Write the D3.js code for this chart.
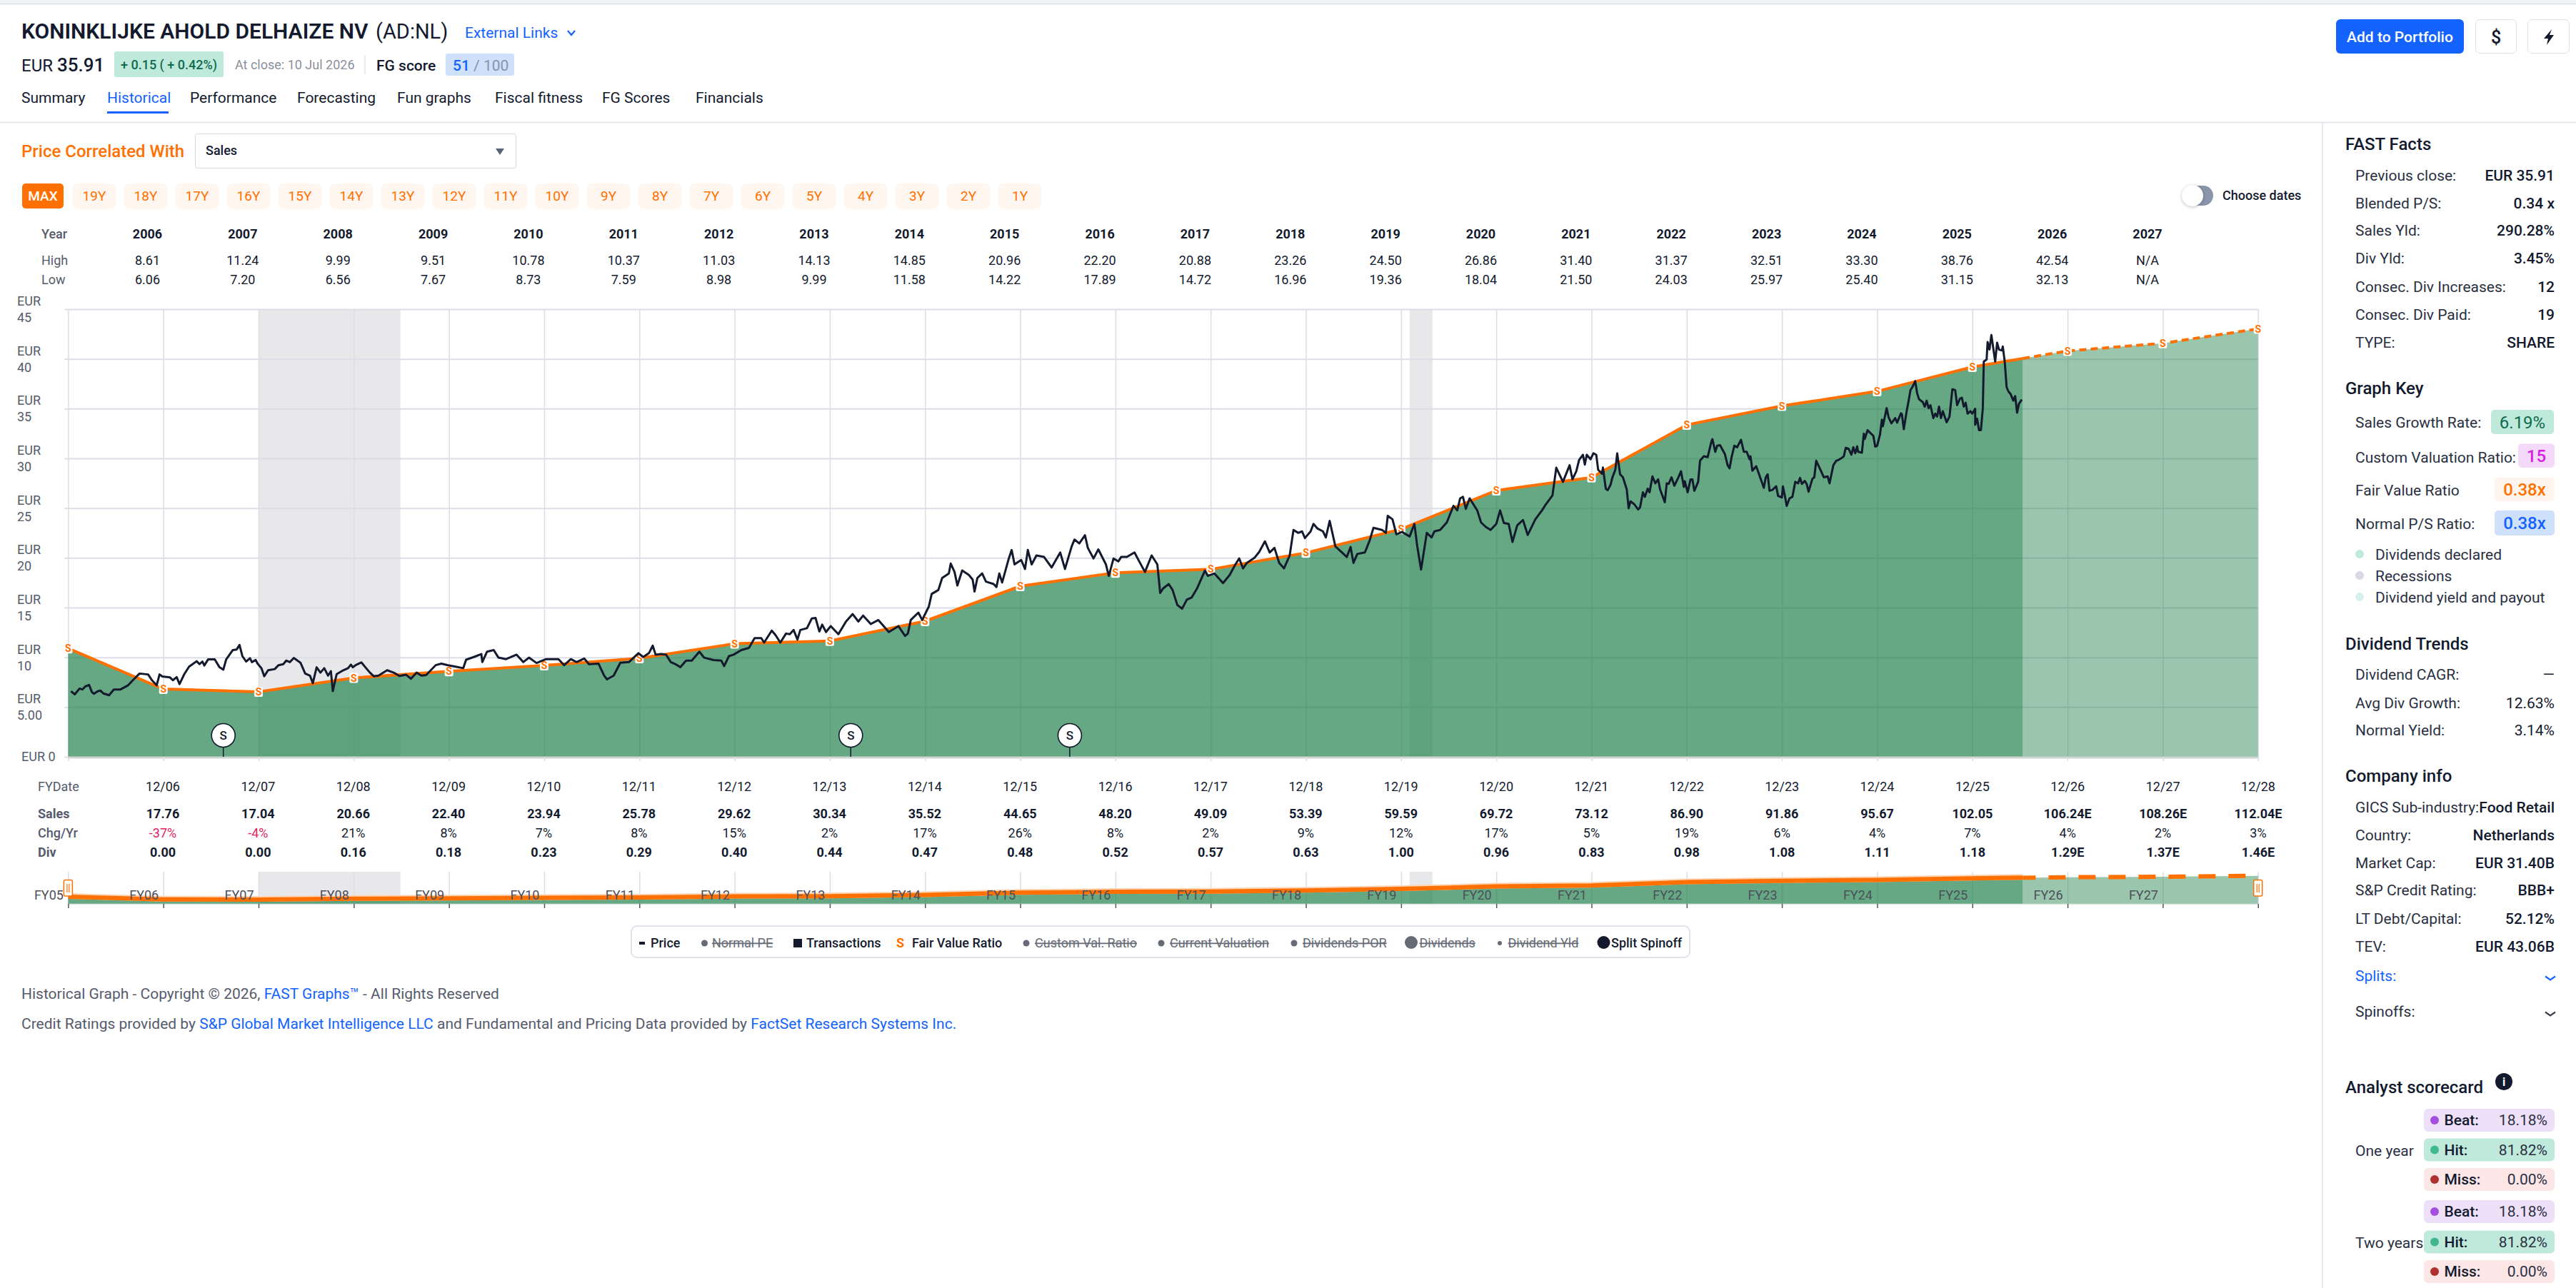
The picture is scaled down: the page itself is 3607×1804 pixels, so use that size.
<!DOCTYPE html>
<html>
<head>
<meta charset="utf-8">
<script src="https://d3js.org/d3.v7.min.js"></script>
<style>
  html, body { margin: 0; padding: 0; background: #fff; overflow: hidden; }
  text { font-family: Roboto, sans-serif; }
</style>
</head>
<body>
<div id="page"></div>
<script>
// Summary table above the chart
var tableYears = ["2006","2007","2008","2009","2010","2011","2012","2013","2014","2015","2016","2017","2018","2019","2020","2021","2022","2023","2024","2025","2026","2027"];
var tableHigh = ["8.61","11.24","9.99","9.51","10.78","10.37","11.03","14.13","14.85","20.96","22.20","20.88","23.26","24.50","26.86","31.40","31.37","32.51","33.30","38.76","42.54","N/A"];
var tableLow = ["6.06","7.20","6.56","7.67","8.73","7.59","8.98","9.99","11.58","14.22","17.89","14.72","16.96","19.36","18.04","21.50","24.03","25.97","25.40","31.15","32.13","N/A"];

// Table below the chart
var fyDates = ["12/06","12/07","12/08","12/09","12/10","12/11","12/12","12/13","12/14","12/15","12/16","12/17","12/18","12/19","12/20","12/21","12/22","12/23","12/24","12/25","12/26","12/27","12/28"];
var salesRow = ["17.76","17.04","20.66","22.40","23.94","25.78","29.62","30.34","35.52","44.65","48.20","49.09","53.39","59.59","69.72","73.12","86.90","91.86","95.67","102.05","106.24E","108.26E","112.04E"];
var chgRow = ["-37%","-4%","21%","8%","7%","8%","15%","2%","17%","26%","8%","2%","9%","12%","17%","5%","19%","6%","4%","7%","4%","2%","3%"];
var divRow = ["0.00","0.00","0.16","0.18","0.23","0.29","0.40","0.44","0.47","0.48","0.52","0.57","0.63","1.00","0.96","0.83","0.98","1.08","1.11","1.18","1.29E","1.37E","1.46E"];
var fyLabels = ["FY05","FY06","FY07","FY08","FY09","FY10","FY11","FY12","FY13","FY14","FY15","FY16","FY17","FY18","FY19","FY20","FY21","FY22","FY23","FY24","FY25","FY26","FY27"];

// Fair value line, one value per fiscal year end (2006 = Dec 2005)
var fairYears = [2006,2007,2008,2009,2010,2011,2012,2013,2014,2015,2016,2017,2018,2019,2020,2021,2022,2023,2024,2025,2026,2027,2028,2029];
var fairValues = [10.9,6.82,6.54,7.93,8.6,9.19,9.9,11.37,11.65,13.64,17.15,18.5,18.85,20.5,22.88,26.77,28.08,33.37,35.27,36.74,39.19,40.8,41.57,43.02];
var lastCloseYear = 2026.53;

var recessions = [[2008.0, 2009.49], [2020.09, 2020.33]];
var splitYears = [2007.63, 2014.22, 2016.52];
var yTicks = [0,5,10,15,20,25,30,35,40,45];

// Price line
var priceYears = [2006.03,2006.07,2006.12,2006.15,2006.18,2006.22,2006.25,2006.27,2006.31,2006.34,2006.37,2006.43,2006.48,2006.55,2006.63,2006.68,2006.75,2006.84,2006.88,2006.93,2006.96,2006.99,
2007.07,2007.10,2007.14,2007.17,2007.22,2007.27,2007.35,2007.38,2007.41,2007.43,2007.47,2007.54,2007.59,2007.63,2007.66,2007.73,2007.77,2007.80,2007.83,2007.87,2007.91,2007.93,2007.97,2007.99,
2008.03,2008.06,2008.10,2008.17,2008.21,2008.26,2008.29,2008.33,2008.37,2008.44,2008.49,2008.54,2008.57,2008.61,2008.65,2008.69,2008.73,2008.76,2008.78,2008.82,2008.89,2008.94,2008.97,2008.99,
2009.03,2009.08,2009.13,2009.17,2009.21,2009.26,2009.35,2009.42,2009.48,2009.55,2009.60,2009.66,2009.71,2009.76,2009.80,2009.86,2009.92,2009.99,
2010.07,2010.15,2010.18,2010.26,2010.34,2010.35,2010.40,2010.47,2010.52,2010.60,2010.71,2010.78,2010.84,2010.92,
2011.02,2011.15,2011.21,2011.28,2011.34,2011.42,2011.47,2011.57,2011.63,2011.66,2011.73,2011.80,2011.89,2011.94,2011.99,
2012.04,2012.10,2012.14,2012.17,2012.23,2012.28,2012.33,2012.38,2012.43,2012.49,2012.55,2012.63,2012.68,2012.78,2012.86,2012.89,2012.94,2012.99,
2013.07,2013.15,2013.21,2013.28,2013.31,2013.39,2013.43,2013.48,2013.54,2013.58,2013.62,2013.66,2013.69,2013.76,2013.81,2013.85,2013.89,2013.92,2013.96,
2014.01,2014.09,2014.17,2014.24,2014.30,2014.35,2014.43,2014.51,2014.62,2014.72,2014.79,2014.82,2014.85,2014.93,2014.97,
2015.04,2015.07,2015.14,2015.18,2015.25,2015.27,2015.31,2015.34,2015.39,2015.46,2015.50,2015.52,2015.55,2015.60,2015.64,2015.72,2015.75,2015.78,2015.81,2015.88,2015.91,2015.94,
2016.01,2016.05,2016.08,2016.12,2016.17,2016.25,2016.33,2016.42,2016.47,2016.54,2016.57,2016.62,2016.68,2016.71,2016.77,2016.82,2016.90,2016.93,2016.98,
2017.03,2017.06,2017.12,2017.20,2017.25,2017.31,2017.38,2017.44,2017.47,2017.50,2017.56,2017.60,2017.65,2017.70,2017.75,2017.80,2017.86,2017.94,2017.97,
2018.04,2018.13,2018.20,2018.26,2018.30,2018.34,2018.38,2018.46,2018.51,2018.57,2018.62,2018.67,2018.72,2018.77,2018.83,2018.87,2018.92,2018.96,2018.99,
2019.05,2019.08,2019.12,2019.18,2019.21,2019.25,2019.31,2019.38,2019.43,2019.47,2019.50,2019.54,2019.62,2019.67,2019.71,2019.80,2019.84,2019.86,2019.91,2019.95,
2020.01,2020.09,2020.14,2020.17,2020.21,2020.27,2020.32,2020.35,2020.41,2020.48,2020.55,2020.59,2020.62,2020.65,2020.68,2020.72,2020.80,2020.84,2020.89,2020.94,2021.00,2021.04,2021.08,2021.13,2021.17,2021.22,2021.28,2021.33,2021.41,2021.48,2021.51,2021.59,2021.63,2021.70,2021.77,
2021.80,2021.84,2021.87,2021.91,2021.93,2021.95,2021.99,2022.02,2022.05,2022.07,2022.11,2022.12,2022.15,2022.17,2022.20,2022.22,2022.25,2022.27,2022.30,2022.33,2022.37,2022.39,2022.41,2022.45,2022.49,2022.51,2022.54,2022.56,2022.59,2022.61,2022.64,2022.67,2022.70,2022.72,2022.77,2022.79,2022.81,2022.84,2022.87,2022.91,2022.94,2022.97,2022.98,
2023.01,2023.04,2023.06,2023.08,2023.12,2023.14,2023.18,2023.22,2023.26,2023.27,2023.30,2023.32,2023.35,2023.40,2023.43,2023.45,2023.47,2023.50,2023.53,2023.57,2023.60,2023.63,2023.66,2023.67,2023.69,2023.73,2023.76,2023.81,2023.83,2023.85,2023.87,2023.90,2023.94,2023.96,
2024.00,2024.01,2024.03,2024.05,2024.08,2024.11,2024.14,2024.17,2024.19,2024.21,2024.24,2024.26,2024.28,2024.32,2024.34,2024.36,2024.39,2024.44,2024.48,2024.50,2024.54,2024.57,2024.59,2024.63,2024.65,2024.67,2024.70,2024.73,2024.75,2024.77,2024.79,2024.80,2024.84,2024.86,2024.87,2024.90,2024.92,2024.96,2024.98,
2025.00,2025.03,2025.05,2025.06,2025.10,2025.12,2025.15,2025.19,2025.21,2025.25,2025.26,2025.28,2025.31,2025.33,2025.35,2025.37,2025.40,2025.42,2025.44,2025.48,2025.50,2025.52,2025.54,2025.56,2025.59,2025.61,2025.63,2025.65,2025.67,2025.69,2025.73,2025.76,2025.79,2025.82,2025.84,2025.87,2025.89,2025.91,2025.93,2025.95,2025.98,
2026.00,2026.03,2026.03,2026.05,2026.07,2026.09,2026.11,2026.12,2026.15,2026.16,2026.18,2026.20,2026.24,2026.26,2026.28,2026.31,2026.32,2026.34,2026.36,2026.38,2026.40,2026.43,2026.45,2026.47,2026.49,2026.52];
var priceValues = [6.59,6.28,6.86,6.77,7.07,7.22,6.50,6.34,6.59,6.65,6.37,6.19,6.77,6.77,7.19,7.70,8.37,8.28,7.70,7.19,8.28,8.07,
7.98,7.70,8.01,7.31,8.31,9.06,9.61,9.31,9.58,9.18,9.79,9.79,9.00,8.76,9.79,10.73,10.79,11.24,10.12,9.58,9.91,9.52,9.73,9.37,
8.91,8.10,8.70,8.82,9.21,9.31,9.67,9.52,9.94,9.46,8.37,8.16,7.40,9.00,8.46,8.91,8.16,8.61,6.60,8.31,8.70,8.91,9.27,9.00,
9.27,9.49,8.91,8.46,8.10,8.16,8.70,8.46,8.13,8.25,7.85,8.46,8.16,8.22,8.61,9.21,9.37,9.21,
9.06,8.91,9.76,10.03,10.33,9.52,10.57,10.73,9.97,9.82,10.27,9.52,9.97,9.43,
9.82,9.82,9.21,9.82,9.52,9.88,9.31,9.37,8.16,7.79,8.16,9.46,9.52,9.97,10.42,
10.03,10.42,11.18,10.27,10.33,10.27,9.52,9.31,9.00,9.67,9.67,10.57,9.97,9.73,9.67,9.12,10.12,10.27,
10.73,10.94,11.93,11.93,11.48,12.69,12.24,11.48,12.39,12.33,12.75,11.78,12.75,12.93,13.90,13.96,12.60,13.29,12.54,
13.14,12.33,13.60,14.35,13.60,14.20,13.35,13.75,12.54,13.14,12.15,12.39,13.75,14.50,13.75,
15.11,16.37,16.77,17.98,18.43,19.43,18.58,17.22,18.73,18.28,17.82,16.62,17.98,18.43,17.61,17.37,17.07,18.43,17.52,19.94,20.79,19.34,
19.79,18.88,20.79,19.34,20.24,20.09,19.03,20.54,18.88,21.15,21.84,21.45,22.27,21.00,19.94,20.85,19.34,18.19,19.94,
19.64,20.09,20.09,20.54,19.64,18.58,20.24,19.34,16.47,16.92,17.37,16.77,15.26,14.89,15.80,16.01,16.98,18.73,18.19,
18.43,17.46,18.28,19.34,19.94,18.94,19.49,20.00,20.60,21.66,20.54,21.00,19.49,18.94,20.24,22.81,22.51,22.66,21.99,
22.66,23.41,22.96,22.66,22.05,23.72,21.15,20.54,20.09,21.09,19.49,20.39,20.54,21.75,23.02,22.81,22.51,24.23,23.87,22.36,
22.60,22.15,23.41,21.15,18.82,22.51,22.05,22.66,22.81,23.56,25.23,24.77,25.98,26.13,24.92,25.98,24.77,23.56,23.11,22.81,23.41,24.77,23.50,23.41,21.60,23.26,23.81,22.30,23.87,24.77,25.23,26.28,29.06,27.64,29.31,
27.89,28.70,29.85,30.36,29.37,30.36,29.91,30.51,30.36,28.85,28.46,29.09,26.95,26.80,27.34,28.10,28.85,30.51,28.40,28.10,26.89,24.98,25.68,25.38,24.86,25.08,26.59,26.13,26.95,26.59,28.19,27.49,27.89,26.89,25.59,27.49,27.43,28.10,27.25,28.04,28.70,27.13,27.70,
26.59,27.89,27.89,26.74,27.64,29.76,30.21,30.12,31.72,31.93,30.66,31.27,31.33,30.45,29.31,29.00,30.06,31.27,31.12,31.87,30.66,30.66,29.91,30.21,28.76,29.21,28.40,27.04,28.10,28.40,26.74,26.83,27.19,26.22,
26.07,27.19,26.28,25.23,25.98,26.13,27.64,27.49,28.04,27.43,27.73,27.43,26.65,27.95,28.10,29.76,29.15,28.10,28.19,27.49,29.31,29.76,29.82,30.06,30.21,31.06,30.97,30.36,31.12,30.51,31.21,30.66,30.57,32.48,31.96,32.84,32.63,32.27,31.18,
31.27,32.39,33.90,33.23,35.05,34.14,33.53,34.05,33.60,34.53,34.44,32.93,34.74,35.74,36.86,37.16,37.76,36.56,35.95,35.65,35.20,35.80,35.05,35.35,34.05,34.50,34.20,35.20,34.05,34.74,33.63,34.20,36.95,36.86,35.35,36.01,36.10,35.20,35.59,34.50,34.74,
34.50,34.98,33.38,33.99,32.84,32.84,35.05,39.73,39.94,41.69,40.94,42.40,39.73,41.63,40.94,40.85,41.24,39.73,37.16,36.71,36.50,35.80,36.25,34.59,35.50,35.91];

// Page chrome texts
var navItems = ["Summary","Historical","Performance","Forecasting","Fun graphs","Fiscal fitness","FG Scores","Financials"];
var rangeItems = ["19Y","18Y","17Y","16Y","15Y","14Y","13Y","12Y","11Y","10Y","9Y","8Y","7Y","6Y","5Y","4Y","3Y","2Y","1Y"];
var factLabels = ["Previous close:","Blended P/S:","Sales Yld:","Div Yld:","Consec. Div Increases:","Consec. Div Paid:","TYPE:"];
var factValues = ["EUR 35.91","0.34 x","290.28%","3.45%","12","19","SHARE"];
var trendLabels = ["Dividend CAGR:","Avg Div Growth:","Normal Yield:"];
var trendValues = ["—","12.63%","3.14%"];
var infoLabels = ["GICS Sub-industry:","Country:","Market Cap:","S&P Credit Rating:","LT Debt/Capital:","TEV:"];
var infoValues = ["Food Retail","Netherlands","EUR 31.40B","BBB+","52.12%","EUR 43.06B"];
var scoreLabels = ["Beat:","Hit:","Miss:","Beat:","Hit:","Miss:"];
var scoreValues = ["18.18%","81.82%","0.00%","18.18%","81.82%","0.00%"];

var BLUE = "#1463ff", ORANGE = "#ff7000", INK = "#131a2e", GREY = "#555b6b", GRID = "#dcdde6";

var svg = d3.select("#page").append("svg")
  .attr("width", 3607)
  .attr("height", 1804)
  .style("display", "block");

function put(parent, x, y, str, size, weight, color, anchor) {
  return parent.append("text")
    .attr("x", x).attr("y", y)
    .attr("font-size", size)
    .attr("font-weight", weight || 400)
    .attr("fill", color || INK)
    .attr("text-anchor", anchor || "start")
    .text(str);
}

function box(parent, x0, y0, x1, y1, fill, rx, stroke) {
  return parent.append("rect")
    .attr("x", x0).attr("y", y0)
    .attr("width", x1 - x0).attr("height", y1 - y0)
    .attr("rx", rx || 0)
    .attr("fill", fill)
    .attr("stroke", stroke || "none");
}

function chevron(parent, x, y, color, half, rise) {
  parent.append("path")
    .attr("d", `M${x - half},${y - rise} L${x},${y + rise} L${x + half},${y - rise}`)
    .attr("fill", "none")
    .attr("stroke", color)
    .attr("stroke-width", 2.2);
}

// ---- Header
box(svg, 0, 0, 3607, 5, "#f1f2f5");
svg.append("line").attr("x1", 0).attr("x2", 3607).attr("y1", 5.5).attr("y2", 5.5).attr("stroke", "#dcdde6").attr("stroke-width", 1.5);

put(svg, 30, 54, "KONINKLIJKE AHOLD DELHAIZE NV", 30, 600);
put(svg, 526, 54, "(AD:NL)", 29, 400);
put(svg, 651, 53, "External Links", 21, 400, BLUE);
chevron(svg, 800, 46, BLUE, 5, 3);

put(svg, 30, 100, "EUR", 24, 400);
put(svg, 80, 100, "35.91", 26, 500);
box(svg, 160, 72, 313, 108, "#bfe9db", 3);
put(svg, 236.5, 97, "+ 0.15 ( + 0.42%)", 18, 500, "#0e6b4f", "middle");
put(svg, 329, 97, "At close: 10 Jul 2026", 18, 400, "#8b909c");
svg.append("line").attr("x1", 511).attr("x2", 511).attr("y1", 78).attr("y2", 104).attr("stroke", "#e2e3ea").attr("stroke-width", 1.5);
put(svg, 527, 99, "FG score", 21, 500);
box(svg, 624, 75, 720, 106, "#cfe0fb", 3);
var score = put(svg, 634, 99, "51", 21, 500, BLUE);
score.append("tspan").attr("fill", "#8494ae").attr("font-weight", 400).text(" / 100");

var navX = [30, 150, 266, 416, 556, 693, 843, 974];
navItems.forEach(function (d, i) {
  put(svg, navX[i], 144, d, 21, 400, i == 1 ? BLUE : INK);
});
box(svg, 150, 156, 236, 159, BLUE);
svg.append("line").attr("x1", 0).attr("x2", 3607).attr("y1", 171.5).attr("y2", 171.5).attr("stroke", "#e0e1e8").attr("stroke-width", 1.5);

box(svg, 3271, 27, 3450, 75, BLUE, 6);
put(svg, 3360.5, 59, "Add to Portfolio", 21, 500, "#fff", "middle");
box(svg, 3466.5, 27.5, 3523.5, 74.5, "#fff", 6, "#e0e1e8");
put(svg, 3495, 61, "$", 25, 500, INK, "middle");
box(svg, 3539.5, 27.5, 3597.5, 74.5, "#fff", 6, "#e0e1e8");
svg.append("path").attr("d", "M3573,41 L3562,54 L3568,54 L3566,63 L3576,49 L3570,49 Z").attr("fill", INK);

// ---- Controls
put(svg, 30, 220, "Price Correlated With", 24, 500, ORANGE);
box(svg, 273.5, 187.5, 722.5, 235.5, "#fff", 3, "#d8d9e4");
put(svg, 288, 217, "Sales", 18, 500);
svg.append("path").attr("d", "M694,208 L706,208 L700,217 Z").attr("fill", "#5a6478");

box(svg, 31, 257, 89, 292, ORANGE, 5);
put(svg, 60, 281, "MAX", 19, 500, "#fff", "middle");
rangeItems.forEach(function (d, i) {
  var x0 = 102 + i * 72;
  box(svg, x0, 257, x0 + 60, 293, "#fff6f0", 7);
  put(svg, x0 + 30, 281, d, 19, 400, ORANGE, "middle");
});

box(svg, 3060, 260, 3099, 288, "#8a94ab", 14);
svg.append("circle").attr("cx", 3070).attr("cy", 274).attr("r", 15)
  .attr("fill", "#fff").style("filter", "drop-shadow(0 1px 2px rgba(0,0,0,.25))");
put(svg, 3112, 280, "Choose dates", 18, 500);

// ---- High / low table
var yearCol = d3.scaleLinear().domain([0, 21]).range([206.5, 3007]);
put(svg, 58, 334, "Year", 18, 500, GREY);
put(svg, 58, 371, "High", 18, 400, GREY);
put(svg, 58, 398, "Low", 18, 400, GREY);
tableYears.forEach(function (d, i) {
  put(svg, yearCol(i), 334, d, 18, 700, INK, "middle");
  put(svg, yearCol(i), 371, tableHigh[i], 18, 400, INK, "middle");
  put(svg, yearCol(i), 398, tableLow[i], 18, 400, INK, "middle");
});

// ---- Main chart
var xLeft = 95.4, xRight = 3161.7, yTop = 433, yBottom = 1060;
var x = d3.scaleLinear().domain([2006, 2029]).range([xLeft, xRight]);
var y = d3.scaleLinear().domain([0, 45]).range([yBottom, yTop]);
var fairPoints = fairYears.map(function (d, i) { return {year: d, value: fairValues[i]}; });
var pricePoints = priceYears.map(function (d, i) { return {year: d, value: priceValues[i]}; });
var xTicks = d3.range(2006, 2030);

// Where the fair value line crosses the last close, so the dashes start there
var fairAt = d3.scaleLinear().domain(fairYears).range(fairValues);
var estimatePoints = [{year: lastCloseYear, value: fairAt(lastCloseYear)}]
  .concat(fairPoints.filter(d => d.year > lastCloseYear));

svg.append("defs").selectAll("clipPath")
  .data([
    {id: "past", x0: xLeft - 4, x1: x(lastCloseYear)},
    {id: "future", x0: x(lastCloseYear), x1: xRight + 10}
  ])
  .join("clipPath").attr("id", d => d.id)
  .append("rect")
    .attr("x", d => d.x0).attr("y", 0)
    .attr("width", d => d.x1 - d.x0).attr("height", 1804);

var chart = svg.append("g").attr("class", "chart");

chart.selectAll("rect.recession")
  .data(recessions)
  .join("rect").attr("class", "recession")
    .attr("x", d => x(d[0])).attr("y", yTop)
    .attr("width", d => x(d[1]) - x(d[0])).attr("height", yBottom - yTop)
    .attr("fill", "#e8e8ea");

var yAxis = d3.axisLeft(y).tickValues(yTicks).tickSizeInner(-(xRight - xLeft)).tickSizeOuter(0).tickFormat("");
chart.append("g").attr("class", "y-grid")
  .attr("transform", `translate(${xLeft},0)`)
  .call(yAxis)
  .call(g => g.select(".domain").remove())
  .call(g => g.selectAll("line").attr("stroke", GRID).attr("stroke-width", 2));

chart.append("g").attr("class", "y-stubs")
  .attr("transform", `translate(${xLeft},0)`)
  .call(d3.axisLeft(y).tickValues(yTicks).tickSizeInner(5).tickSizeOuter(0).tickFormat(""))
  .call(g => g.select(".domain").remove())
  .call(g => g.selectAll("line").attr("stroke", GRID).attr("stroke-width", 2));

var xAxis = d3.axisBottom(x).tickValues(xTicks).tickSizeInner(-(yBottom - yTop)).tickSizeOuter(0).tickFormat("");
chart.append("g").attr("class", "x-grid")
  .attr("transform", `translate(0,${yBottom})`)
  .call(xAxis)
  .call(g => g.select(".domain").remove())
  .call(g => g.selectAll("line").attr("stroke", GRID).attr("stroke-width", 1.5));

// Value area, darker up to the last close and lighter for the estimates
var fairArea = d3.area().x(d => x(d.year)).y0(yBottom).y1(d => y(d.value));
chart.append("path").datum(fairPoints).attr("d", fairArea)
  .attr("fill", "#24834f").attr("fill-opacity", 0.7).attr("clip-path", "url(#past)");
chart.append("path").datum(fairPoints).attr("d", fairArea)
  .attr("fill", "#24834f").attr("fill-opacity", 0.46).attr("clip-path", "url(#future)");

chart.append("line")
  .attr("x1", xLeft).attr("x2", xRight).attr("y1", yBottom + 1).attr("y2", yBottom + 1)
  .attr("stroke", "#cdd6d2").attr("stroke-width", 3);

var xStubs = d3.axisBottom(x).tickValues(xTicks).tickSizeInner(6).tickSizeOuter(0).tickFormat("");
chart.append("g")
  .attr("transform", `translate(0,${yBottom})`)
  .call(xStubs)
  .call(g => g.select(".domain").remove())
  .call(g => g.selectAll("line").attr("stroke", GRID).attr("stroke-width", 1.5));

var fairLine = d3.line().x(d => x(d.year)).y(d => y(d.value));
chart.append("path").datum(fairPoints).attr("d", fairLine)
  .attr("fill", "none").attr("stroke", ORANGE).attr("stroke-width", 4).attr("clip-path", "url(#past)");
chart.append("path").datum(estimatePoints).attr("d", fairLine)
  .attr("fill", "none").attr("stroke", ORANGE).attr("stroke-width", 4)
  .attr("stroke-dasharray", "10 6");

var fairMarks = chart.selectAll("g.fair-mark")
  .data(fairPoints)
  .join("g").attr("class", "fair-mark")
    .attr("transform", d => `translate(${x(d.year)},${y(d.value)})`);
fairMarks.append("rect")
  .attr("x", -6).attr("y", -7).attr("width", 12).attr("height", 14).attr("rx", 2)
  .attr("fill", "#fff").attr("fill-opacity", 0.95);
fairMarks.append("text")
  .attr("text-anchor", "middle").attr("y", 5)
  .attr("font-size", 14).attr("font-weight", 700)
  .attr("fill", ORANGE)
  .text("S");

var priceLine = d3.line().x(d => x(d.year)).y(d => y(d.value));
chart.append("path").datum(pricePoints).attr("d", priceLine)
  .attr("fill", "none").attr("stroke", INK).attr("stroke-width", 3).attr("stroke-linejoin", "round");

var splitMarks = chart.selectAll("g.split")
  .data(splitYears)
  .join("g").attr("class", "split")
    .attr("transform", d => `translate(${x(d)},${yBottom})`);
splitMarks.append("line").attr("y1", -14).attr("y2", 0).attr("stroke", INK).attr("stroke-width", 1.5);
splitMarks.append("circle").attr("cy", -30).attr("r", 16.5)
  .attr("fill", "#fff").attr("stroke", INK).attr("stroke-width", 1.6);
splitMarks.append("text").attr("y", -24).attr("text-anchor", "middle")
  .attr("font-size", 17).attr("font-weight", 500).attr("fill", INK).text("S");

yTicks.slice(1).forEach(function (d) {
  put(svg, 24, y(d) - 5, "EUR", 18, 400, GREY);
  put(svg, 24, y(d) + 18, d == 5 ? "5.00" : d, 18, 400, GREY);
});
put(svg, 30, 1066, "EUR 0", 18, 400, GREY);

// ---- Fiscal table
var fyCol = d3.scaleLinear().domain([0, 22]).range([228, 3162]);
put(svg, 53, 1108, "FYDate", 18, 400, GREY);
put(svg, 53, 1146, "Sales", 18, 700, GREY);
put(svg, 53, 1173, "Chg/Yr", 18, 500, GREY);
put(svg, 53, 1200, "Div", 18, 700, GREY);
fyDates.forEach(function (d, i) {
  put(svg, fyCol(i), 1108, d, 18, 400, INK, "middle");
  put(svg, fyCol(i), 1146, salesRow[i], 18, 700, INK, "middle");
  put(svg, fyCol(i), 1173, chgRow[i], 18, 400, chgRow[i][0] == "-" ? "#e0245e" : INK, "middle");
  put(svg, fyCol(i), 1200, divRow[i], 18, 700, INK, "middle");
});

// ---- Navigator
var navTop = 1221, navBottom = 1266;
var yNav = d3.scaleLinear().domain([0, 49.2]).range([navBottom, navTop]);
var nav = svg.append("g").attr("class", "navigator");

nav.selectAll("rect.recession")
  .data(recessions)
  .join("rect").attr("class", "recession")
    .attr("x", d => x(d[0])).attr("y", navTop)
    .attr("width", d => x(d[1]) - x(d[0])).attr("height", navBottom - navTop)
    .attr("fill", "#e8e8ea");

nav.append("g")
  .attr("transform", `translate(0,${navBottom})`)
  .call(d3.axisBottom(x).tickValues(xTicks).tickSizeInner(-(navBottom - navTop)).tickSizeOuter(0).tickFormat(""))
  .call(g => g.select(".domain").remove())
  .call(g => g.selectAll("line").attr("stroke", GRID).attr("stroke-width", 1.5));

var navArea = d3.area().x(d => x(d.year)).y0(navBottom).y1(d => yNav(d.value));
nav.append("path").datum(fairPoints).attr("d", navArea)
  .attr("fill", "#24834f").attr("fill-opacity", 0.7).attr("clip-path", "url(#past)");
nav.append("path").datum(fairPoints).attr("d", navArea)
  .attr("fill", "#24834f").attr("fill-opacity", 0.46).attr("clip-path", "url(#future)");

var navLine = d3.line().x(d => x(d.year)).y(d => yNav(d.value));
nav.append("path").datum(fairPoints).attr("d", navLine)
  .attr("fill", "none").attr("stroke", "#ffd3b3").attr("stroke-width", 8)
  .attr("transform", "translate(0,-1)").attr("clip-path", "url(#past)");
nav.append("path").datum(fairPoints).attr("d", navLine)
  .attr("fill", "none").attr("stroke", ORANGE).attr("stroke-width", 6).attr("clip-path", "url(#past)");
nav.append("path").datum(estimatePoints).attr("d", navLine)
  .attr("fill", "none").attr("stroke", ORANGE).attr("stroke-width", 6)
  .attr("stroke-dasharray", "24 18").attr("stroke-dashoffset", 6);

nav.append("line").attr("x1", xLeft).attr("x2", xRight).attr("y1", navBottom + 0.5).attr("y2", navBottom + 0.5)
  .attr("stroke", "#dfe7e3").attr("stroke-width", 1.5);

nav.append("g")
  .attr("transform", `translate(0,${navBottom})`)
  .call(d3.axisBottom(x).tickValues(xTicks).tickSizeInner(6).tickSizeOuter(0).tickFormat(""))
  .call(g => g.select(".domain").remove())
  .call(g => g.selectAll("line").attr("stroke", "#555").attr("stroke-width", 1.5));

fyLabels.forEach(function (d, i) {
  put(nav, x(2006 + i) - 27, 1260, d, 18, 400, "#4c505c", "middle");
});

[2006, 2029].forEach(function (d) {
  var cx = x(d);
  box(nav, cx - 6, 1232.5, cx + 6, 1255, "#fff", 2, ORANGE).attr("stroke-width", 1.5);
  nav.append("path").attr("d", `M${cx - 1.5},1238 V1250 M${cx + 1.5},1238 V1250`)
    .attr("stroke", ORANGE).attr("stroke-width", 1.2);
});

// ---- Legend
box(svg, 884, 1297, 2366, 1341, "#fff", 8, "#e2e3ea").attr("stroke-width", 2);
var legendY = 1327, legendMid = 1321;
var struck = "#666b75";
box(svg, 895, legendMid - 2, 903, legendMid + 2, INK);
put(svg, 911, legendY, "Price", 18, 500);
svg.append("circle").attr("cx", 986.5).attr("cy", legendMid).attr("r", 4.5).attr("fill", struck);
put(svg, 997, legendY, "Normal PE", 18, 400, struck).style("text-decoration", "line-through");
box(svg, 1111, legendMid - 6, 1123, legendMid + 6, INK);
put(svg, 1129, legendY, "Transactions", 18, 500);
put(svg, 1260.5, legendY, "S", 18, 700, ORANGE, "middle");
put(svg, 1277, legendY, "Fair Value Ratio", 18, 500);
svg.append("circle").attr("cx", 1437).attr("cy", legendMid).attr("r", 4.5).attr("fill", struck);
put(svg, 1449, legendY, "Custom Val. Ratio", 18, 400, struck).style("text-decoration", "line-through");
svg.append("circle").attr("cx", 1626).attr("cy", legendMid).attr("r", 4.5).attr("fill", struck);
put(svg, 1638, legendY, "Current Valuation", 18, 400, struck).style("text-decoration", "line-through");
svg.append("circle").attr("cx", 1812).attr("cy", legendMid).attr("r", 4.5).attr("fill", struck);
put(svg, 1824, legendY, "Dividends POR", 18, 400, struck).style("text-decoration", "line-through");
svg.append("circle").attr("cx", 1976).attr("cy", legendMid - 1).attr("r", 9).attr("fill", struck);
put(svg, 1987.5, legendY, "Dividends", 18, 400, struck).style("text-decoration", "line-through");
svg.append("circle").attr("cx", 2100).attr("cy", legendMid).attr("r", 3).attr("fill", struck);
put(svg, 2111.5, legendY, "Dividend Yld", 18, 400, struck).style("text-decoration", "line-through");
svg.append("circle").attr("cx", 2245.5).attr("cy", legendMid - 1).attr("r", 9).attr("fill", INK);
put(svg, 2256, legendY, "Split Spinoff", 18, 500);

// ---- Footer
var foot1 = put(svg, 30, 1399, "Historical Graph - Copyright © 2026, ", 21, 400, GREY);
foot1.append("tspan").attr("fill", BLUE).text("FAST Graphs™");
foot1.append("tspan").text(" - All Rights Reserved");
var foot2 = put(svg, 30, 1441, "Credit Ratings provided by ", 21, 400, GREY);
foot2.append("tspan").attr("fill", BLUE).text("S&P Global Market Intelligence LLC");
foot2.append("tspan").text(" and Fundamental and Pricing Data provided by ");
foot2.append("tspan").attr("fill", BLUE).text("FactSet Research Systems Inc.");

// ---- Right panel
svg.append("line").attr("x1", 3252).attr("x2", 3252).attr("y1", 171).attr("y2", 1804).attr("stroke", "#e0e1e8").attr("stroke-width", 1.5);
var labelX = 3298, valueX = 3577;

function factRows(labels, values, ys, valueWeight) {
  labels.forEach(function (d, i) {
    put(svg, labelX, ys[i], d, 21, 400, "#2a3042");
    put(svg, valueX, ys[i], values[i], 21, valueWeight, INK, "end");
  });
}

put(svg, 3284, 210, "FAST Facts", 24, 500);
factRows(factLabels, factValues, [253, 292, 330, 369, 409, 448, 487], 500);

put(svg, 3284, 552, "Graph Key", 24, 500);
put(svg, labelX, 599, "Sales Growth Rate:", 21, 400, "#2a3042");
box(svg, 3488, 574, 3576, 608, "#bfe9db", 5);
put(svg, 3532, 600, "6.19%", 24, 400, "#0e6b4f", "middle");
put(svg, labelX, 648, "Custom Valuation Ratio:", 21, 400, "#2a3042");
box(svg, 3526, 621.5, 3577, 655, "#f4d9fa", 5);
put(svg, 3551.5, 647, "15", 24, 500, "#d61fe0", "middle");
put(svg, labelX, 694, "Fair Value Ratio", 21, 400, "#2a3042");
box(svg, 3493, 669, 3577, 702, "#fff5ee", 5);
put(svg, 3535, 694, "0.38x", 24, 500, ORANGE, "middle");
put(svg, labelX, 741, "Normal P/S Ratio:", 21, 400, "#2a3042");
box(svg, 3493, 715, 3577, 750, "#cfe0fb", 5);
put(svg, 3535, 741, "0.38x", 24, 500, BLUE, "middle");

[["Dividends declared", "#bfe9db", 776, 784], ["Recessions", "#d8d9e4", 806, 814], ["Dividend yield and payout", "#d7f0ec", 836, 844]].forEach(function (d) {
  svg.append("circle").attr("cx", 3304).attr("cy", d[2]).attr("r", 6).attr("fill", d[1]);
  put(svg, 3326, d[3], d[0], 21, 400, "#2a3042");
});

put(svg, 3284, 910, "Dividend Trends", 24, 500);
factRows(trendLabels, trendValues, [952, 992, 1030], 400);

put(svg, 3284, 1095, "Company info", 24, 500);
factRows(infoLabels, infoValues, [1138, 1177, 1216, 1254, 1294, 1333], 500);
put(svg, labelX, 1374, "Splits:", 21, 400, BLUE);
chevron(svg, 3571, 1370, BLUE, 7, 2.5);
put(svg, labelX, 1424, "Spinoffs:", 21, 400, "#2a3042");
chevron(svg, 3571, 1420, "#3a3f4c", 7, 2.5);

put(svg, 3284, 1531, "Analyst scorecard", 24, 500);
svg.append("circle").attr("cx", 3506).attr("cy", 1515).attr("r", 12).attr("fill", INK);
put(svg, 3506, 1521, "i", 16, 700, "#fff", "middle");

var pillTop = [1553, 1594.5, 1636, 1681, 1723.5, 1765];
var pillFill = ["#eee0f8", "#bfe9db", "#fde6e6", "#eee0f8", "#bfe9db", "#fde6e6"];
var pillDot = ["#a54fe0", "#3fb88f", "#b03030", "#a54fe0", "#3fb88f", "#b03030"];
scoreLabels.forEach(function (d, i) {
  box(svg, 3394, pillTop[i], 3577, pillTop[i] + 32, pillFill[i], 6);
  svg.append("circle").attr("cx", 3409).attr("cy", pillTop[i] + 16).attr("r", 6).attr("fill", pillDot[i]);
  put(svg, 3422.5, pillTop[i] + 23, d, 21, 500);
  put(svg, 3567, pillTop[i] + 23, scoreValues[i], 21, 400, "#2a3042", "end");
});
put(svg, labelX, 1619, "One year", 21, 400, "#2a3042");
put(svg, labelX, 1748, "Two years", 21, 400, "#2a3042");
</script>
</body>
</html>
